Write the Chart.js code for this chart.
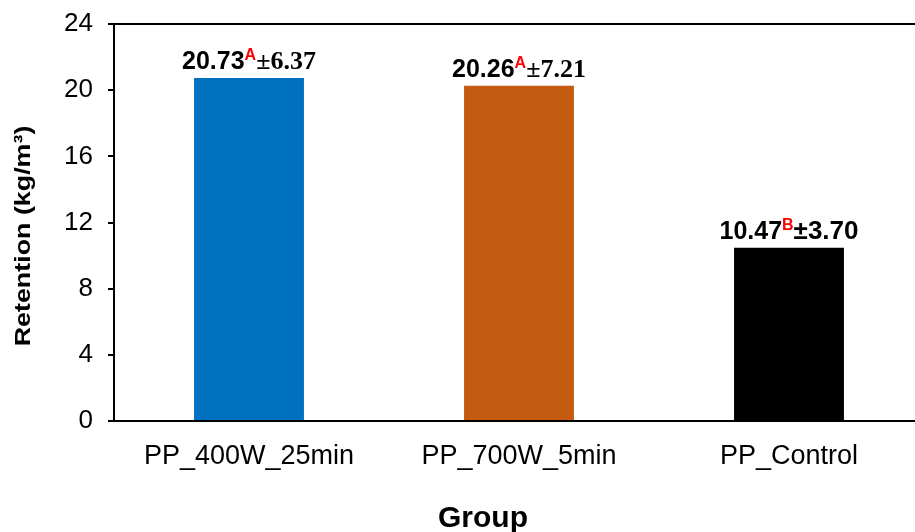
<!DOCTYPE html>
<html lang="en">
  <head>
    <meta charset="UTF-8" />
    <title>Retention by group</title>
    <script src="https://cdn.jsdelivr.net/npm/chart.js"></script>
    <style>
      html, body { margin: 0; padding: 0; background: #fff; overflow: hidden; }
      canvas { display: block; }
    </style>
  </head>
  <body>
    <canvas id="retentionChart" width="940" height="532"></canvas>

    <script>
      const groups = ["PP_400W_25min", "PP_700W_5min", "PP_Control"];
      const retention = [20.73, 20.26, 10.47];
      const letters = ["A", "A", "B"];
      const sd = ["6.37", "7.21", "3.70"];
      const yTicks = [0, 4, 8, 12, 16, 20, 24];

      const barColors = ["#0070C0", "#C55A11", "#000000"];
      const SANS = "'Liberation Sans', Arial, sans-serif";
      const SERIF = "'Liberation Serif', 'Times New Roman', serif";
      // the ± part uses a serif face on the first two bars
      const sdFamily = [SERIF, SERIF, SANS];

      // value + red significance letter + ±sd above each bar
      const barLabels = {
        id: "barLabels",
        afterDatasetsDraw(chart) {
          const ctx = chart.ctx;
          const meta = chart.getDatasetMeta(0);
          meta.data.forEach((bar, i) => {
            const parts = [
              { text: retention[i].toFixed(2), font: "bold 25px " + SANS, color: "#000", rise: 0 },
              { text: letters[i], font: "bold 16px " + SANS, color: "#FF0000", rise: 9 },
              { text: "±" + sd[i], font: "bold 26px " + sdFamily[i], color: "#000", rise: 0 },
            ];
            ctx.save();
            ctx.textBaseline = "alphabetic";
            ctx.textAlign = "left";
            let total = 0;
            parts.forEach((p) => {
              ctx.font = p.font;
              p.w = ctx.measureText(p.text).width;
              total += p.w;
            });
            let x = bar.x - total / 2;
            const y = bar.y - 9;
            parts.forEach((p) => {
              ctx.font = p.font;
              ctx.fillStyle = p.color;
              ctx.fillText(p.text, x, y - p.rise);
              x += p.w;
            });
            ctx.restore();
          });
        },
      };

      // top/right frame lines and the two axis titles
      const frameAndTitles = {
        id: "frameAndTitles",
        afterDraw(chart) {
          const { ctx, chartArea } = chart;
          ctx.save();
          ctx.strokeStyle = "#000";
          ctx.lineWidth = 2;
          ctx.beginPath();
          ctx.moveTo(chartArea.left - 1, chartArea.top);
          ctx.lineTo(chartArea.right, chartArea.top);
          ctx.lineTo(chartArea.right, chartArea.bottom);
          ctx.stroke();

          ctx.fillStyle = "#000";
          ctx.textAlign = "center";
          ctx.textBaseline = "alphabetic";
          ctx.font = "bold 30px " + SANS;
          ctx.fillText("Group", 483, 527);

          ctx.translate(30, 236);
          ctx.rotate(-Math.PI / 2);
          ctx.scale(1.22, 1);
          ctx.font = "bold 22px " + SANS;
          ctx.fillText("Retention (kg/m³)", 0, 0);
          ctx.restore();
        },
      };

      const ctx = document.getElementById("retentionChart").getContext("2d");
      new Chart(ctx, {
        type: "bar",
        data: {
          labels: groups,
          datasets: [
            {
              data: retention,
              backgroundColor: barColors,
              borderWidth: 0,
              categoryPercentage: 1,
              barPercentage: 0.407,
            },
          ],
        },
        options: {
          responsive: false,
          animation: false,
          devicePixelRatio: 1,
          layout: { padding: { top: 24, right: 16, left: 0, bottom: 0 } },
          plugins: {
            legend: { display: false },
            tooltip: { enabled: false },
          },
          scales: {
            x: {
              grid: { display: false },
              border: { display: true, color: "#000", width: 2 },
              ticks: {
                color: "#000",
                padding: 11,
                font: { family: SANS, size: 27 },
              },
              afterFit: (scale) => {
                scale.height = 111;
                scale.paddingLeft = 0;
                scale.paddingRight = 0;
              },
            },
            y: {
              min: 0,
              max: 24,
              afterBuildTicks: (scale) => {
                scale.ticks = yTicks.map((v) => ({ value: v }));
              },
              grid: {
                drawOnChartArea: false,
                drawTicks: true,
                tickLength: 6,
                color: "#000",
                lineWidth: 2,
              },
              border: { display: true, color: "#000", width: 2 },
              ticks: {
                color: "#000",
                padding: 15,
                font: { family: SANS, size: 26 },
              },
              afterFit: (scale) => {
                scale.width = 114;
                scale.paddingTop = 0;
                scale.paddingBottom = 0;
              },
            },
          },
        },
        plugins: [barLabels, frameAndTitles],
      });
    </script>
  </body>
</html>
